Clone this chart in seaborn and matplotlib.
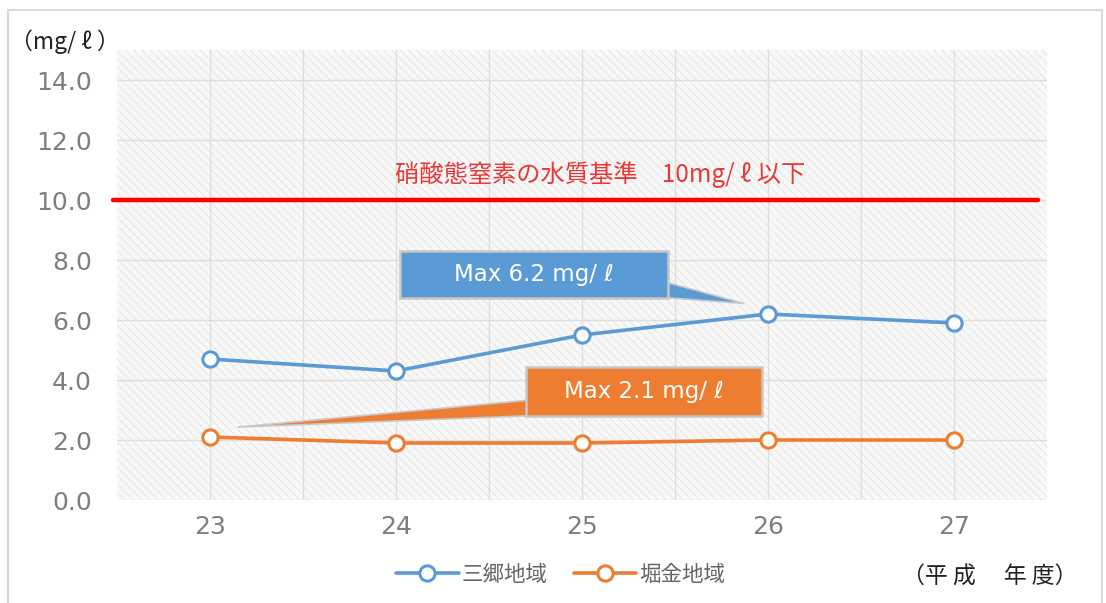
import matplotlib
matplotlib.use("Agg")
import matplotlib.pyplot as plt
from matplotlib.patches import Rectangle, Polygon
import seaborn as sns
import pandas as pd

# ---- data ----
years = [23, 24, 25, 26, 27]
misato = [4.7, 4.3, 5.5, 6.2, 5.9]
horigane = [2.1, 1.9, 1.9, 2.0, 2.0]
series_names = ["三郷地域", "堀金地域"]
standard = 10.0
yticks = [0, 2, 4, 6, 8, 10, 12, 14]

blue = "#5b9bd5"
orange = "#ed7d31"

sns.set_theme(style="white")
plt.rcParams["font.family"] = ["DejaVu Sans", "Noto Sans CJK JP"]
plt.rcParams["hatch.linewidth"] = 0.6
CJK = ["Noto Sans CJK JP", "DejaVu Sans"]

fig = plt.figure(figsize=(11.06, 6.03), dpi=100)
ax = fig.add_axes([117 / 1106, 1 - 500 / 603, 930 / 1106, 450 / 603])

# outer frame
fig.patches.append(Rectangle((8 / 1106, -0.05), 1094 / 1106, 1 - 10 / 603 + 0.05,
                             transform=fig.transFigure, fill=False,
                             ec="#d9d9d9", lw=1.5))

# hatched plot background
ax.add_patch(Rectangle((0, 0), 1, 1, transform=ax.transAxes, fc="#f8f8f8",
                       ec="#e2e2e2", hatch="\\\\\\\\", lw=0, zorder=0.1))

for vals, name, col in [(misato, series_names[0], blue),
                        (horigane, series_names[1], orange)]:
    d = pd.DataFrame({"year": years, "value": vals})
    sns.lineplot(data=d, x="year", y="value", color=col, marker="o",
                 markersize=11, markerfacecolor="white", markeredgecolor=col,
                 markeredgewidth=2.2, linewidth=2.6, ax=ax, label=name, zorder=3)

ax.set_xlim(22.5, 27.5)
ax.set_ylim(0, 15)
ax.set_xticks(years)
ax.set_xticklabels([str(y) for y in years])
ax.set_xticks([y + 0.5 for y in years[:-1]], minor=True)
ax.set_yticks(yticks)
ax.set_yticklabels([f"{v:.1f}" for v in yticks])
ax.set_xlabel("")
ax.set_ylabel("")
for s in ax.spines.values():
    s.set_visible(False)
ax.tick_params(axis="both", which="both", length=0, colors="#7f7f7f", labelsize=18)
ax.tick_params(axis="y", pad=18)
ax.tick_params(axis="x", pad=11)
ax.set_axisbelow(True)
ax.grid(True, which="major", color="#dedede", lw=1)
ax.grid(True, which="minor", axis="x", color="#dedede", lw=1)

# standard line
ax.axhline(standard, xmin=-0.004, xmax=0.99, color="#ff0000", lw=3.2, zorder=2,
           clip_on=False)
ax.text(25.1, 10.83, "硝酸態窒素の水質基準　10mg/ ℓ 以下", color="#e83838",
        fontsize=17.5, ha="center", va="center", family=CJK)

# callouts
def callout(x0, x1, y0, y1, poly, color, text):
    ax.add_patch(Polygon(poly, closed=True, fc=color, ec="#c8c8c8", lw=1.2, zorder=4))
    ax.add_patch(Rectangle((x0, y0), x1 - x0, y1 - y0, fc=color, ec="#c8c8c8",
                           lw=1.8, zorder=5))
    ax.text((x0 + x1) / 2, (y0 + y1) / 2, text, color="white", fontsize=16.5,
            ha="center", va="center", zorder=6)

callout(24.02, 25.46, 6.72, 8.31,
        [(25.44, 7.28), (25.87, 6.55), (25.44, 6.75)], blue, "Max 6.2 mg/ ℓ")
callout(24.70, 25.97, 2.79, 4.42,
        [(24.72, 3.33), (23.15, 2.43), (24.72, 2.81)], orange, "Max 2.1 mg/ ℓ")

# legend
handles, labels = ax.get_legend_handles_labels()
if ax.get_legend() is not None:
    ax.get_legend().remove()
leg = fig.legend(handles, labels, loc="center", bbox_to_anchor=(0.507, 1 - 575 / 603),
                 ncol=2, frameon=False, handlelength=2.9, handletextpad=0.15,
                 columnspacing=1.2, prop={"family": CJK, "size": 15.5})
for t in leg.get_texts():
    t.set_color("#666666")

# unit labels
fig.text(10 / 1106, 1 - 42 / 603, "（mg/ ℓ ）", fontsize=16.5, color="#222222",
         ha="left", va="center", family=CJK)
fig.text(1077 / 1106, 1 - 577 / 603, "（平 成　 年 度）", fontsize=16.5,
         color="#222222", ha="right", va="center", family=CJK)

fig.savefig("out.png", dpi=100)
